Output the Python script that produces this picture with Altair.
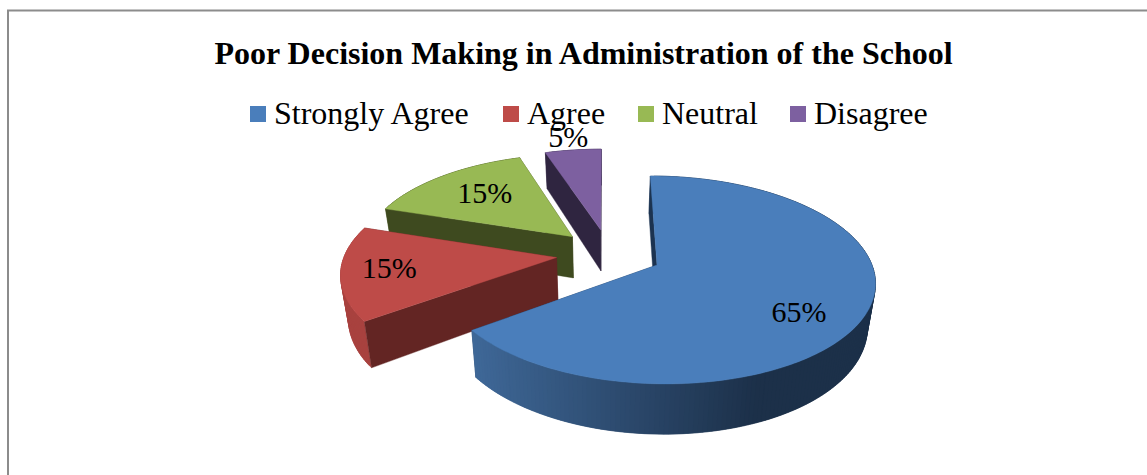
import math
import altair as alt
import pandas as pd

# Survey responses and their presentation
categories = ["Strongly Agree", "Agree", "Neutral", "Disagree"]
shares = [65, 15, 15, 5]
top_colors = ["#4A7EBB", "#BE4B48", "#98B954", "#7D60A0"]
radial_colors = ["#1C3350", "#632523", "#3E4A1F", "#2F2540"]
wall_near = ["#3F6898", "#A8423F", "#4C5A26", "#3A2D50"]
wall_far = ["#1C3049", "#A8423F", "#4C5A26", "#3A2D50"]
label_radius = [0.7, 0.86, 0.7, 1.16]
label_nudge_x = [-1, 18, 6, -1]
label_nudge_y = [14, -2, 1, -1]

W, H = 1147, 475
FONT = "Liberation Serif"

# Perspective view of the tilted pie plane
ORIGIN_X, ORIGIN_Y = 657, 265
VANISH_X = 604
RX, RY = 215, 101.8
PERSPECTIVE = 0.144
DEPTH = 43
BASE_SHRINK = 0.97
EXPLODE = 0.25
HUB_U, HUB_V = -0.2228, -0.1135


def project(u, v, lowered=False):
    w = 1 - PERSPECTIVE * v
    x = VANISH_X + (ORIGIN_X - VANISH_X + RX * u) / w
    y = ORIGIN_Y + RY * v / w
    if lowered:
        x = VANISH_X + (x - VANISH_X) * BASE_SHRINK
        y += DEPTH / w
    return [round(x, 2), round(y, 2)]


def polar(theta, radius=1.0):
    return radius * math.sin(theta), -radius * math.cos(theta)


def mix(a, b, t):
    pa = [int(a[i:i + 2], 16) for i in (1, 3, 5)]
    pb = [int(b[i:i + 2], 16) for i in (1, 3, 5)]
    return "#" + "".join(f"{round(p + (q - p) * t):02x}" for p, q in zip(pa, pb))


def feature(ring, fill):
    return {
        "type": "Feature",
        "properties": {"fill": fill},
        "geometry": {"type": "Polygon", "coordinates": [ring + [ring[0]]]},
    }


features = []
label_rows = []
total = sum(shares)
start_angle = 0.0
slices = []
for i, share in enumerate(shares):
    sweep = share / total * 2 * math.pi
    mid = start_angle + sweep / 2
    du, dv = polar(mid, EXPLODE)
    slices.append((i, start_angle, start_angle + sweep, mid, HUB_U + du, HUB_V + dv))
    lu, lv = polar(mid, label_radius[i])
    px, py = project(HUB_U + du + lu, HUB_V + dv + lv)
    label_rows.append({"text": f"{share}%", "x": px + label_nudge_x[i], "y": py + label_nudge_y[i]})
    start_angle += sweep


def radial_wall(i, au, av, u, v):
    return feature(
        [project(au, av), project(u, v), project(u, v, True), project(au, av, True)],
        radial_colors[i],
    )


# Paint back to front: the smallest slice sits furthest from the viewer
for i, a0, a1, mid, au, av in reversed(slices):
    steps = max(8, int((a1 - a0) * 50))
    angles = [a0 + (a1 - a0) * s / steps for s in range(steps + 1)]
    rim = [(au + polar(a)[0], av + polar(a)[1]) for a in angles]

    features.append(radial_wall(i, au, av, *rim[-1]))
    # Each wall strip reaches over its neighbour so no seams show between them
    for k in range(len(rim) - 1):
        u0, v0 = rim[k]
        u1, v1 = rim[min(k + 2, len(rim) - 1)]
        quad = [project(u0, v0), project(u1, v1), project(u1, v1, True), project(u0, v0, True)]
        t = min(1.0, max(0.0, (quad[0][0] - 472) / 288))
        features.append(feature(quad, mix(wall_near[i], wall_far[i], t)))
    features.append(radial_wall(i, au, av, *rim[0]))
    features.append(feature([project(au, av)] + [project(u, v) for u, v in rim], top_colors[i]))

pie_data = alt.InlineData(
    values={"type": "FeatureCollection", "features": features},
    format=alt.DataFormat(property="features", type="json"),
)

pie = (
    alt.Chart(pie_data)
    .mark_geoshape(strokeWidth=0.4)
    .encode(
        fill=alt.Fill("properties.fill:N", scale=None),
        stroke=alt.Stroke("properties.fill:N", scale=None),
    )
    .project(type="identity", scale=1, translate=[0, 0])
)

x_scale = alt.Scale(domain=[0, W], range=[0, W], nice=False, zero=False)
y_scale = alt.Scale(domain=[0, H], range=[0, H], nice=False, zero=False)

labels = (
    alt.Chart(pd.DataFrame(label_rows))
    .mark_text(font=FONT, fontSize=30, color="#000000")
    .encode(
        x=alt.X("x:Q", scale=x_scale, axis=None),
        y=alt.Y("y:Q", scale=y_scale, axis=None),
        text="text:N",
    )
)

# Invisible points whose only job is to carry the category legend
legend_carrier = (
    alt.Chart(pd.DataFrame({"category": categories}))
    .mark_square(size=0)
    .encode(
        color=alt.Color(
            "category:N",
            sort=categories,
            scale=alt.Scale(domain=categories, range=top_colors),
            legend=alt.Legend(
                title=None,
                orient="none",
                legendX=242,
                legendY=98,
                direction="horizontal",
                columns=4,
                symbolType="square",
                symbolSize=256,
                symbolStrokeWidth=0,
                symbolOpacity=1,
                labelFont=FONT,
                labelFontSize=32,
                labelColor="#000000",
                labelOffset=0,
                columnPadding=24,
                padding=0,
                labelLimit=400,
            ),
        ),
    )
)

frame_top = alt.Chart(pd.DataFrame({"edge": [0]})).mark_rule(color="#8C8C8C", strokeWidth=2).encode(
    x=alt.value(7), x2=alt.value(W), y=alt.value(10.5)
)
frame_left = alt.Chart(pd.DataFrame({"edge": [0]})).mark_rule(color="#8C8C8C", strokeWidth=2).encode(
    x=alt.value(8), y=alt.value(10), y2=alt.value(H)
)

chart = (
    alt.layer(frame_top, frame_left, legend_carrier, pie, labels)
    .properties(
        width=W,
        height=H,
        padding=0,
        autosize=alt.AutoSizeParams(type="none"),
        title=alt.TitleParams(
            "Poor Decision Making in Administration of the School",
            font=FONT,
            fontSize=32,
            fontWeight="bold",
            color="#000000",
            anchor="middle",
            dx=10,
            dy=75,
        ),
    )
    .configure_view(stroke=None)
    .resolve_scale(x="shared", y="shared")
)

chart.save("out.html", embed_options={"renderer": "svg", "actions": False})
